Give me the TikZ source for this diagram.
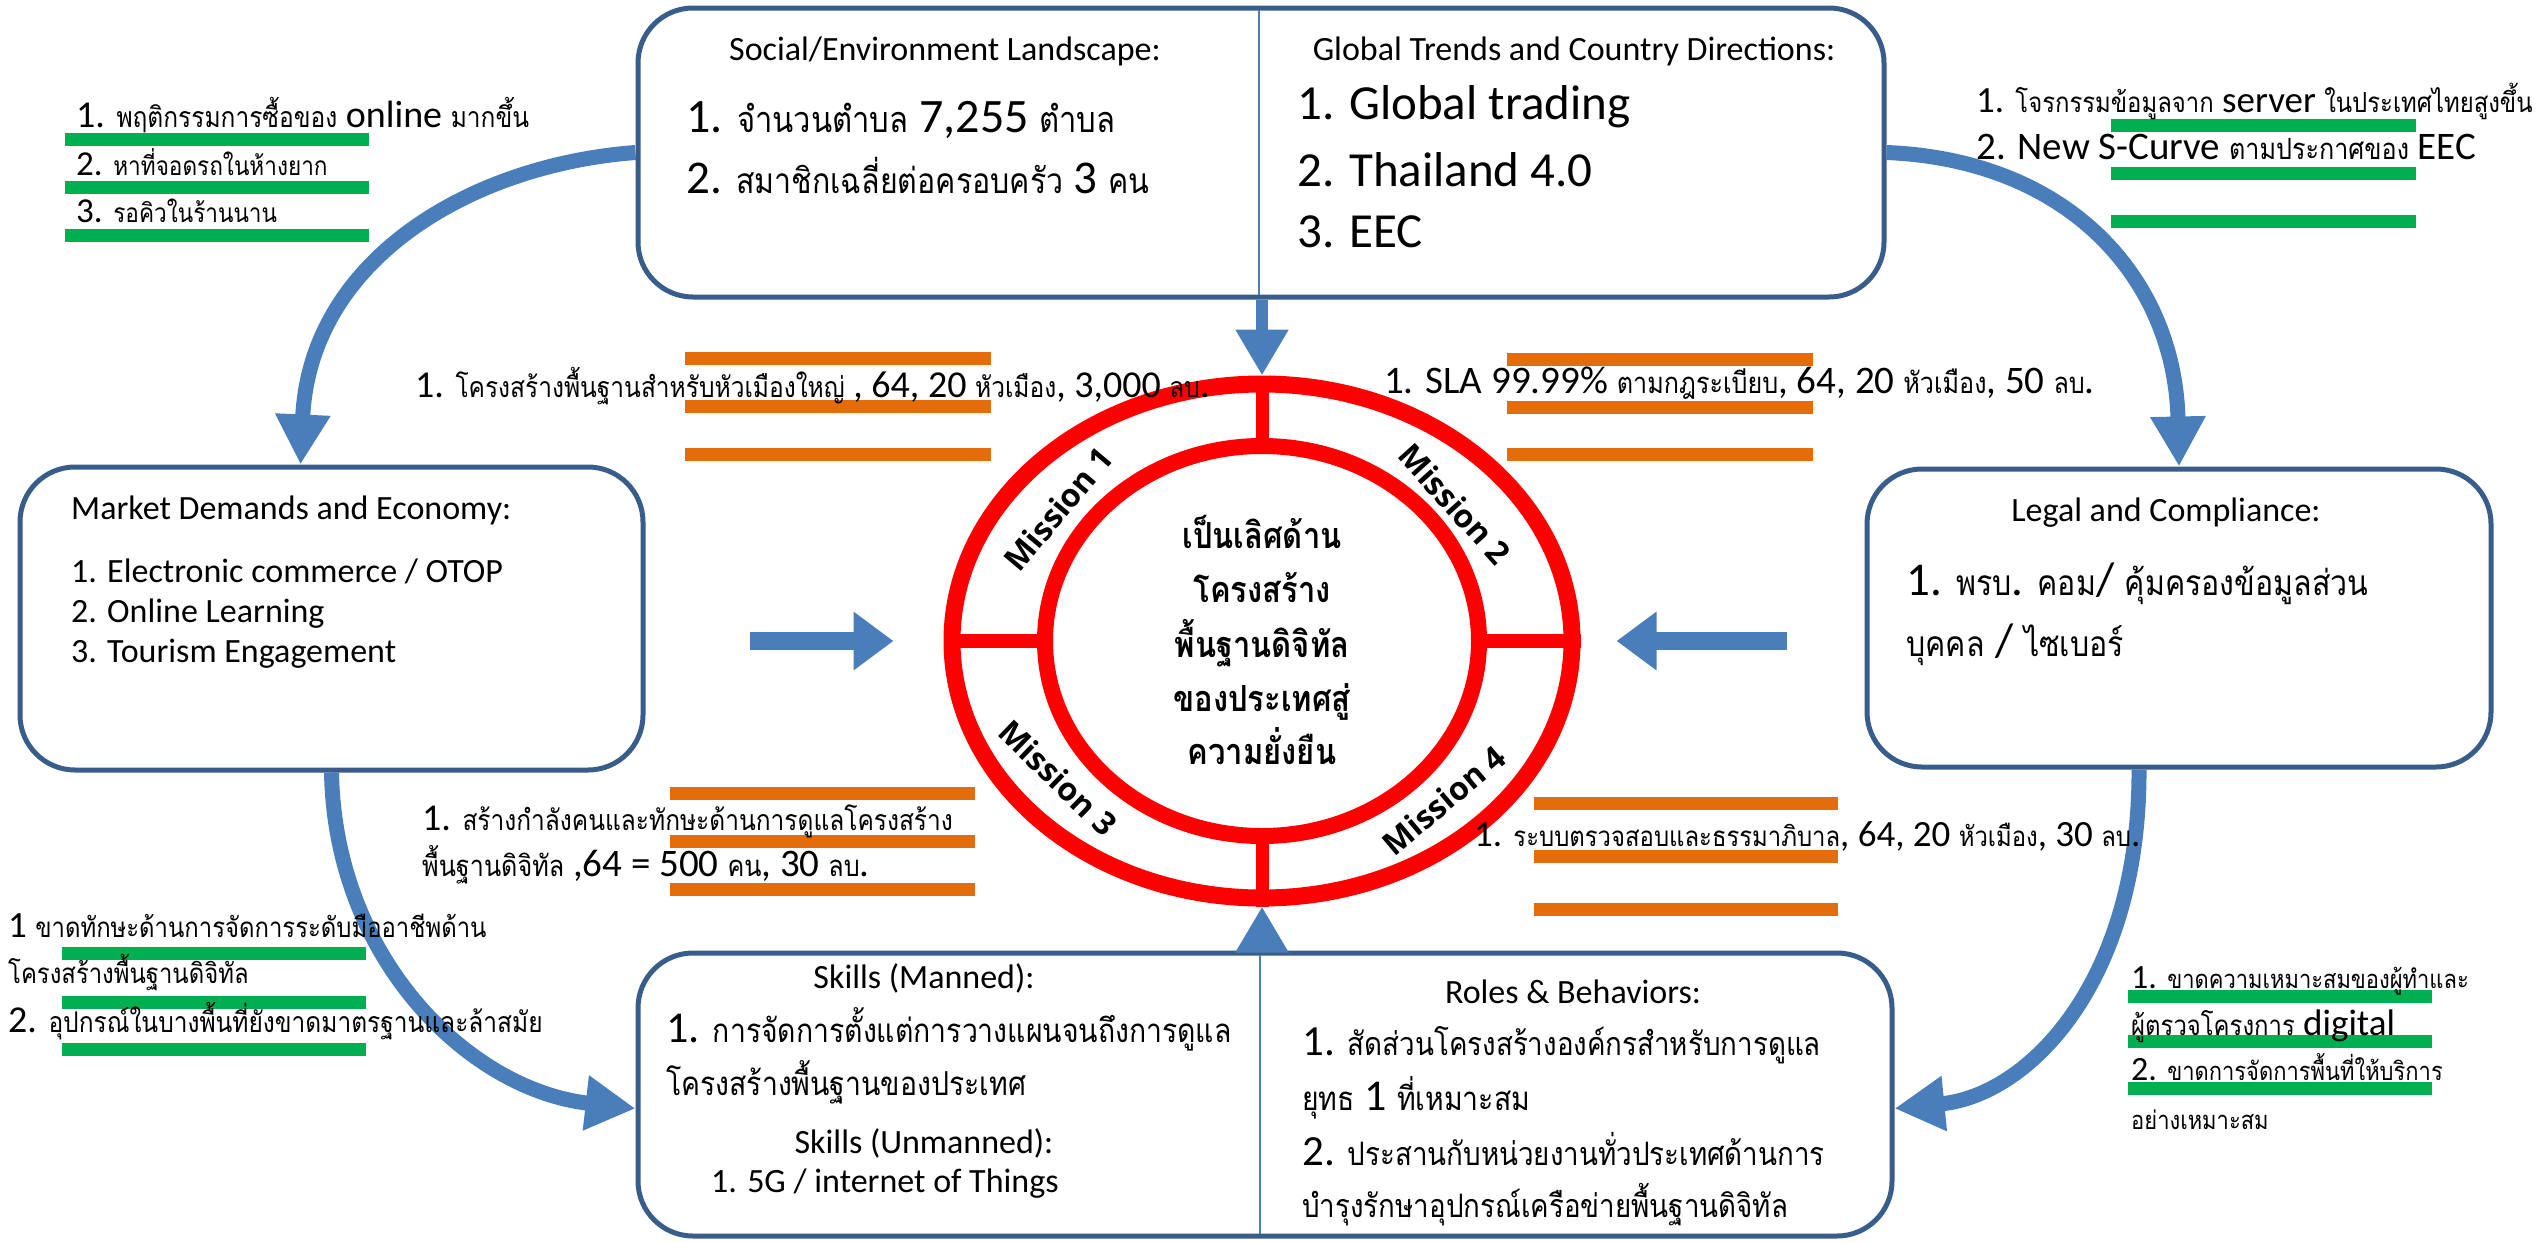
\documentclass[tikz,border=0pt]{standalone}
\usepackage{fontspec}
\setmainfont{Carlito}
\newfontfamily\thaifont[Script=Thai,Scale=0.75,FakeStretch=0.86]{Loma}
\newfontfamily\missionfont{Open Sans}
\usetikzlibrary{arrows.meta,shapes.geometric}

% Thai characters switch to the Thai family automatically, Latin ones switch back
\XeTeXinterchartokenstate=1
\newXeTeXintercharclass\thaiclass
\newcount\thcount
\thcount="0E01
\loop
  \XeTeXcharclass\thcount=\thaiclass
  \advance\thcount by 1
\ifnum\thcount<"0E5C \repeat
\XeTeXinterchartoks 0 \thaiclass = {\thaifont}
\XeTeXinterchartoks 4095 \thaiclass = {\thaifont}
\XeTeXinterchartoks \thaiclass 0 = {\rmfamily}
\XeTeXinterchartoks \thaiclass 4095 = {\rmfamily}

\definecolor{boxblue}{HTML}{385D8A}
\definecolor{arrowblue}{HTML}{4A7EBB}
\definecolor{barorange}{HTML}{E46C0A}
\definecolor{bargreen}{HTML}{00B050}
\definecolor{ringred}{HTML}{FF0000}

\newcommand\fsz[1]{\fontsize{#1}{#1}\selectfont}

\tikzset{
  panel/.style={draw=boxblue, line width=5pt, rounded corners=55pt, fill=white, inner sep=0pt},
  divider/.style={draw=arrowblue, line width=2pt},
  flow/.style={draw=arrowblue, line width=15pt, -{Triangle[length=50pt,width=52pt]}},
  push/.style={draw=arrowblue, line width=18pt, -{Triangle[length=40pt,width=56pt]}},
  pushv/.style={draw=arrowblue, line width=12pt, -{Triangle[length=46pt,width=50pt]}},
  ring/.style={ellipse, draw=ringred, inner sep=0pt},
  spoke/.style={draw=ringred, line width=13pt},
  obar/.style={draw=barorange, line width=13pt},
  gbar/.style={draw=bargreen, line width=13pt},
  lbl/.style={inner sep=0pt, anchor=base west},
  ttl/.style={inner sep=0pt, anchor=base},
  mission/.style={inner sep=0pt, font=\missionfont\bfseries\fsz{32}},
}

\begin{document}
\begin{tikzpicture}[x=1pt,y=-1pt]
\useasboundingbox (0,0) rectangle (2547,1242);
\fill[white] (0,0) rectangle (2547,1242);

% the four panels
\node[panel, minimum width=1246pt, minimum height=289pt] (topbox) at (1261,152.5) {};
\node[panel, minimum width=623pt, minimum height=303pt] (market) at (331.5,618.5) {};
\node[panel, minimum width=624pt, minimum height=298pt] (legal) at (2179,618) {};
\node[panel, minimum width=1254pt, minimum height=283pt] (bottombox) at (1265,1094.5) {};
\draw[divider] (1259,10) -- (1259,295);
\draw[divider] (1260,955) -- (1260,1234);

% mission ring
\node[ring, line width=17pt, minimum width=620pt, minimum height=514pt] (outer) at (1262,641) {};
\node[ring, line width=16pt, minimum width=434pt, minimum height=390pt] (inner) at (1262,641) {};
\draw[spoke] (outer.north) -- (inner.north);
\draw[spoke] (outer.south) -- (inner.south);
\draw[spoke, line width=14pt] (outer.west) -- (inner.west);
\draw[spoke, line width=14pt] (outer.east) -- (inner.east);

% curved flows between the panels
\draw[flow] (topbox.west) .. controls (470,165) and (310,260) .. ([xshift=-31pt]market.north);
\draw[flow] (topbox.east) .. controls (2070,160) and (2175,280) .. (legal.north);
\draw[flow] (market.south) .. controls (335,960) and (470,1090) .. ([yshift=-14pt]bottombox.west);
\draw[flow] ([xshift=-40pt]legal.south) .. controls (2140,980) and (2030,1095) .. ([yshift=-14pt]bottombox.east);

% short arrows into the ring
\coordinate (lefttail) at (750,641);
\coordinate (righttail) at (1787,641);
\draw[push] (lefttail) -- ([xshift=-50pt]outer.west);
\draw[push] (righttail) -- ([xshift=36pt]outer.east);
\draw[pushv] (topbox.south -| outer.north) -- (outer.north);
\draw[pushv] (outer.south |- bottombox.north) -- (outer.south);

% highlight bars
\foreach \y in {139.5,187.5,235.5} \draw[gbar] (65,\y) -- (369,\y);
\foreach \y in {125.5,173,221} \draw[gbar] (2111,\y) -- (2416,\y);
\foreach \y in {953.5,1002,1049.5} \draw[gbar] (62,\y) -- (366,\y);
\foreach \y in {996,1041,1088} \draw[gbar] (2128,\y) -- (2432,\y);
\foreach \y in {358.5,406.5,454.5} \draw[obar] (685,\y) -- (991,\y);
\foreach \y in {359.5,407,454.5} \draw[obar] (1507,\y) -- (1813,\y);
\foreach \y in {793.5,841.5,889.5} \draw[obar] (670,\y) -- (975,\y);
\foreach \y in {803.5,856.5,909.5} \draw[obar] (1534,\y) -- (1838,\y);

% top panel
\node[ttl, font=\fsz{34}] (soctitle) at (945,60) {Social/Environment Landscape:};
\node[ttl, font=\fsz{34}] (gtitle) at (1574,60) {Global Trends and Country Directions:};
\node[lbl, font=\fsz{48}] (soc1) at (686,132) {1. จำนวนตำบล 7,255 ตำบล};
\node[lbl, font=\fsz{47}] (soc2) at (686,193) {2. สมาชิกเฉลี่ยต่อครอบครัว 3 คน};
\node[lbl, font=\fsz{49}] (glob1) at (1297,119) {1. Global trading};
\node[lbl, font=\fsz{49}] (glob2) at (1297,186) {2. Thailand 4.0};
\node[lbl, font=\fsz{49}] (glob3) at (1297,247) {3. EEC};

% market panel
\node[lbl, font=\fsz{34}] (mtitle) at (71,519) {Market Demands and Economy:};
\node[lbl, font=\fsz{34}] (mk1) at (71,582) {1. Electronic commerce / OTOP};
\node[lbl, font=\fsz{34}] (mk2) at (71,622) {2. Online Learning};
\node[lbl, font=\fsz{34}] (mk3) at (71,662) {3. Tourism Engagement};

% legal panel
\node[ttl, font=\fsz{34}] (ltitle) at (2166,521) {Legal and Compliance:};
\node[lbl, font=\fsz{47}] (lg1) at (1906,595) {1. พรบ. คอม/ คุ้มครองข้อมูลส่วน};
\node[lbl, font=\fsz{47}] (lg2) at (1906,656) {บุคคล / ไซเบอร์};

% bottom panel
\node[ttl, font=\fsz{34}] (sktitle) at (924,988) {Skills (Manned):};
\node[lbl, font=\fsz{44}] (sk1) at (666,1042) {1. การจัดการตั้งแต่การวางแผนจนถึงการดูแล};
\node[lbl, font=\fsz{44}] (sk2) at (666,1095) {โครงสร้างพื้นฐานของประเทศ};
\node[ttl, font=\fsz{34}] (sutitle) at (924,1153) {Skills (Unmanned):};
\node[lbl, font=\fsz{34}] (su1) at (711,1192) {1. 5G / internet of Things};
\node[ttl, font=\fsz{34}] (rtitle) at (1573,1003) {Roles \& Behaviors:};
\node[lbl, font=\fsz{43}] (ro1) at (1302,1055) {1. สัดส่วนโครงสร้างองค์กรสำหรับการดูแล};
\node[lbl, font=\fsz{44}] (ro2) at (1302,1110) {ยุทธ 1 ที่เหมาะสม};
\node[lbl, font=\fsz{43}] (ro3) at (1302,1165) {2. ประสานกับหน่วยงานทั่วประเทศด้านการ};
\node[lbl, font=\fsz{43}] (ro4) at (1302,1217) {บำรุงรักษาอุปกรณ์เครือข่ายพื้นฐานดิจิทัล};

% side notes
\node[lbl, font=\fsz{38}] (tl1) at (76,127) {1. พฤติกรรมการซื้อของ online มากขึ้น};
\node[lbl, font=\fsz{35}] (tl2) at (76,175) {2. หาที่จอดรถในห้างยาก};
\node[lbl, font=\fsz{35}] (tl3) at (76,222) {3. รอคิวในร้านนาน};
\node[lbl, font=\fsz{37}] (tr1) at (1976,112) {1. โจรกรรมข้อมูลจาก server ในประเทศไทยสูงขึ้น};
\node[lbl, font=\fsz{39}] (tr2) at (1976,159) {2. New S-Curve ตามประกาศของ EEC};
\node[lbl, font=\fsz{37}] (bl1) at (8,937) {1 ขาดทักษะด้านการจัดการระดับมืออาชีพด้าน};
\node[lbl, font=\fsz{37}] (bl2) at (8,983) {โครงสร้างพื้นฐานดิจิทัล};
\node[lbl, font=\fsz{38}] (bl3) at (8,1032) {2. อุปกรณ์ในบางพื้นที่ยังขาดมาตรฐานและล้าสมัย};
\node[lbl, font=\fsz{34}] (br1) at (2131,988) {1. ขาดความเหมาะสมของผู้ทำและ};
\node[lbl, font=\fsz{37}] (br2) at (2131,1035) {ผู้ตรวจโครงการ digital};
\node[lbl, font=\fsz{34}] (br3) at (2131,1080) {2. ขาดการจัดการพื้นที่ให้บริการ};
\node[lbl, font=\fsz{34}] (br4) at (2131,1129) {อย่างเหมาะสม};

% mission notes
\node[lbl, font=\fsz{38}] (ms1) at (415,397) {1. โครงสร้างพื้นฐานสำหรับหัวเมืองใหญ่ , 64, 20 หัวเมือง, 3,000 ลบ.};
\node[lbl, font=\fsz{39}] (ms2) at (1384,393) {1. SLA 99.99\% ตามกฎระเบียบ, 64, 20 หัวเมือง, 50 ลบ.};
\node[lbl, font=\fsz{38}] (ms3a) at (422,830) {1. สร้างกำลังคนและทักษะด้านการดูแลโครงสร้าง};
\node[lbl, font=\fsz{39}] (ms3b) at (422,876) {พื้นฐานดิจิทัล ,64 = 500 คน, 30 ลบ.};
\node[lbl, font=\fsz{37}] (ms4) at (1474,846) {1. ระบบตรวจสอบและธรรมาภิบาล, 64, 20 หัวเมือง, 30 ลบ.};

% mission labels on the ring
\node[mission, rotate=50] (mis1) at (1058,509) {Mission 1};
\node[mission, rotate=-48] (mis2) at (1455,504) {Mission 2};
\node[mission, rotate=-44] (mis3) at (1058,778) {Mission 3};
\node[mission, rotate=40] (mis4) at (1444,800) {Mission 4};

% vision in the centre
\node[ttl, font=\bfseries\fsz{48}] (core1) at (1262,548) {เป็นเลิศด้าน};
\node[ttl, font=\bfseries\fsz{48}] (core2) at (1262,602) {โครงสร้าง};
\node[ttl, font=\bfseries\fsz{48}] (core3) at (1262,657) {พื้นฐานดิจิทัล};
\node[ttl, font=\bfseries\fsz{48}] (core4) at (1262,711) {ของประเทศสู่};
\node[ttl, font=\bfseries\fsz{48}] (core5) at (1262,764) {ความยั่งยืน};
\end{tikzpicture}
\end{document}
